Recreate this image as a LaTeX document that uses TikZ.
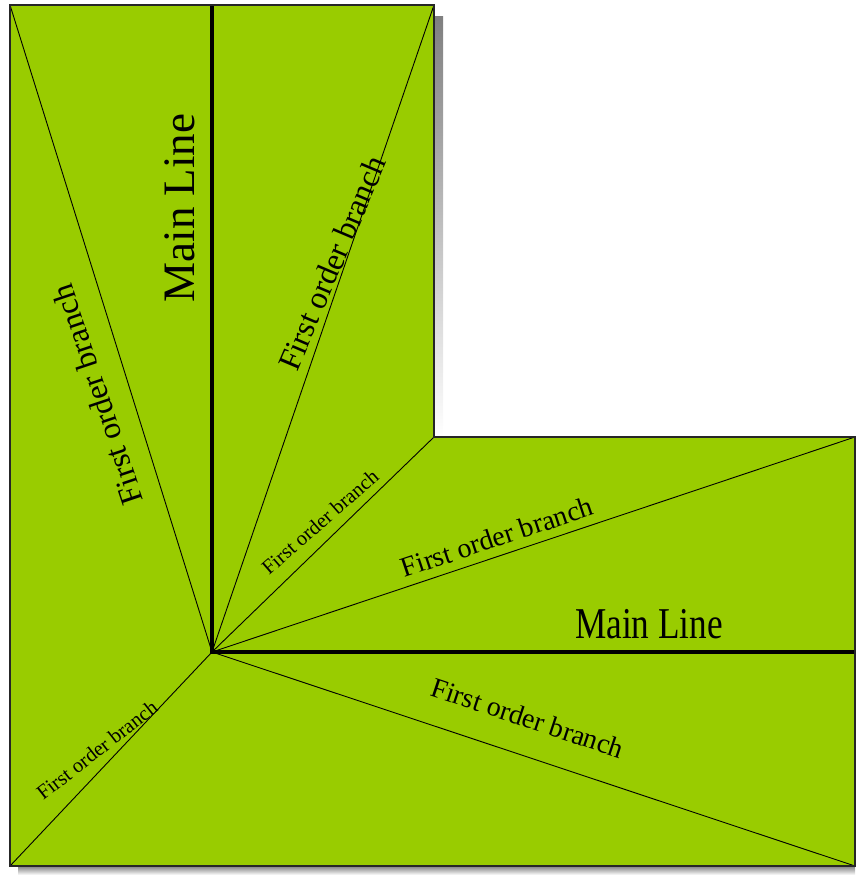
\documentclass[tikz,border=0pt]{standalone}
\usepackage{fontspec}
\setmainfont{Liberation Serif}
\newfontfamily\serifface{Liberation Serif}
\definecolor{leaf}{HTML}{99CC00}
\definecolor{shade}{HTML}{808080}
\begin{document}
\begin{tikzpicture}[x=1pt,y=-1pt,
  branch/.style={line width=0.9pt,black},
  mainline/.style={line width=4pt,black},
  lbl/.style={inner sep=0pt,anchor=center,text=black},
  big/.style={lbl,font=\serifface\fontsize{32}{36}\selectfont},
  mid/.style={lbl,font=\serifface\fontsize{28}{32}\selectfont},
  small/.style={lbl,font=\serifface\fontsize{20.5}{24}\selectfont},
  huge/.style={lbl,font=\serifface\fontsize{45}{50}\selectfont}]
\useasboundingbox (0,0) rectangle (855,875);
% corners
\coordinate (TL) at (10,5);
\coordinate (TR) at (434,5);
\coordinate (IC) at (434,437);
\coordinate (RT) at (855,437);
\coordinate (RB) at (855,866);
\coordinate (BL) at (10,866);
\coordinate (C) at (212,652);
\coordinate (MT) at (212,5);
\coordinate (MR) at (855,652);
% shadow
\fill[shade] (434,17) rectangle (443,437);
\fill[shade] (18,866) rectangle (855,875);
% body
\fill[leaf] (TL) -- (TR) -- (IC) -- (RT) -- (RB) -- (BL) -- cycle;
% branches
\draw[branch] (C) -- (TL);
\draw[branch] (C) -- (TR);
\draw[branch] (C) -- (IC);
\draw[branch] (C) -- (RT);
\draw[branch] (C) -- (RB);
\draw[branch] (C) -- (BL);
% main lines
\draw[mainline] (MT) -- (C) -- (MR);
% outline
\draw[line width=1.3pt,black!85] (TL) -- (TR) -- (IC) -- (RT) -- (RB) -- (BL) -- cycle;
% labels
\node[huge,rotate=90] (mlv) at (180,208) {Main Line};
\node[lbl,font=\serifface\fontsize{44}{48}\selectfont] (mlh) at (649,624) {\scalebox{0.8}[1]{Main Line}};
\node[big,rotate=67] (b1) at (332,263) {First order branch};
\node[big,rotate=108.5] (b2) at (97,395) {First order branch};
\node[small,rotate=41] (b3) at (320,522) {First order branch};
\node[mid,rotate=18.5] (b4) at (497,537) {First order branch};
\node[mid,rotate=-18.4] (b5) at (528,718) {First order branch};
\node[small,rotate=38] (b6) at (97,750) {First order branch};
\end{tikzpicture}
\end{document}
